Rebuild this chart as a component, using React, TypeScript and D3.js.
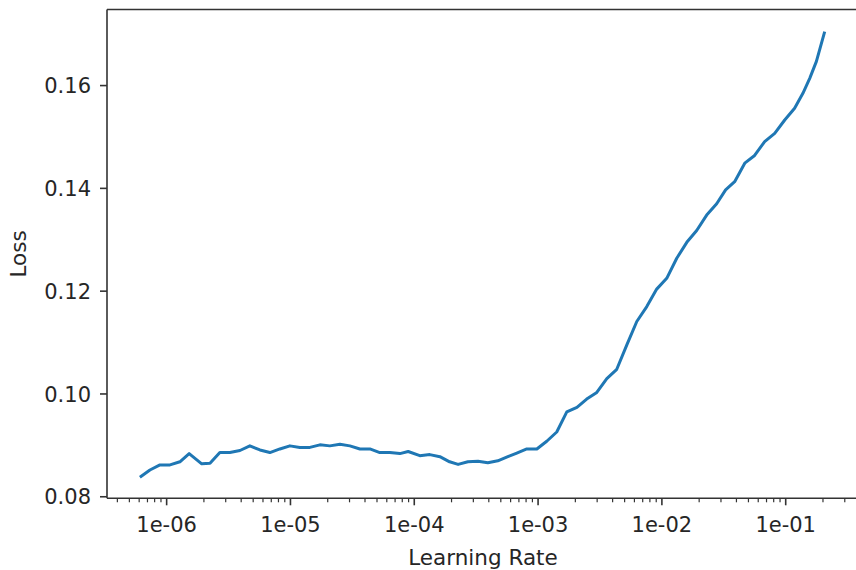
import React from "react";
import * as d3 from "d3";

const learningRates = [
  6.08e-7, 7.33e-7, 8.83e-7, 1.064e-6, 1.28e-6, 1.52e-6, 1.92e-6, 2.24e-6, 2.69e-6, 3.24e-6,
  3.91e-6, 4.7e-6, 5.67e-6, 6.82e-6, 8.22e-6, 9.9e-6, 1.19e-5, 1.435e-5, 1.73e-5, 2.08e-5,
  2.51e-5, 3.02e-5, 3.64e-5, 4.38e-5, 5.27e-5, 6.35e-5, 7.65e-5, 8.93e-5, 1.109e-4, 1.336e-4,
  1.61e-4, 1.93e-4, 2.26e-4, 2.71e-4, 3.27e-4, 3.93e-4, 4.73e-4, 5.7e-4, 6.73e-4, 8.11e-4,
  9.77e-4, 1.175e-3, 1.415e-3, 1.706e-3, 2.06e-3, 2.47e-3, 2.98e-3, 3.59e-3, 4.32e-3, 5.2e-3,
  6.27e-3, 7.55e-3, 9.08e-3, 1.094e-2, 1.318e-2, 1.589e-2, 1.91e-2, 2.3e-2, 2.77e-2, 3.27e-2,
  3.87e-2, 4.67e-2, 5.61e-2, 6.76e-2, 8.15e-2, 9.82e-2, 0.118, 0.1377, 0.1563, 0.177, 0.2065,
];

const losses = [
  0.0838, 0.0852, 0.0862, 0.0862, 0.0868, 0.0884, 0.0864, 0.0865, 0.0886, 0.0886,
  0.089, 0.0899, 0.0891, 0.0886, 0.0893, 0.0899, 0.0896, 0.0896, 0.0901, 0.0899,
  0.0902, 0.0899, 0.0893, 0.0893, 0.0886, 0.0886, 0.0884, 0.0888, 0.088, 0.0882,
  0.0878, 0.0868, 0.0863, 0.0868, 0.0869, 0.0866, 0.087, 0.0878, 0.0885, 0.0893,
  0.0893, 0.0908, 0.0926, 0.0965, 0.0974, 0.099, 0.1003, 0.103, 0.1048, 0.1095,
  0.1141, 0.117, 0.1204, 0.1225, 0.1264, 0.1295, 0.1318, 0.1348, 0.137, 0.1397,
  0.1413, 0.1449, 0.1464, 0.1491, 0.1507, 0.1533, 0.1556, 0.1585, 0.1614, 0.1647, 0.1705,
];

const xTickValues = [1e-6, 1e-5, 1e-4, 1e-3, 1e-2, 1e-1];
const xTickLabels = ["1e-06", "1e-05", "1e-04", "1e-03", "1e-02", "1e-01"];
const yTickValues = [0.08, 0.1, 0.12, 0.14, 0.16];
const yTickLabels = ["0.08", "0.10", "0.12", "0.14", "0.16"];
const xLabel = "Learning Rate";
const yLabel = "Loss";

const W = 856;
const H = 570;
const left = 107;
const right = 859;
const top = 9.5;
const bottom = 498.3;
const FONT = "DejaVu Sans, sans-serif";
const TEXT = "#262626";
const SPINE = "#333333";

export default function App() {
  const x = d3.scaleLog().domain([Math.pow(10, -6.4817), Math.pow(10, -0.408)]).range([left, right]);
  const y = d3.scaleLinear().domain([0.0797, 0.1748]).range([bottom, top]);

  const pts = learningRates.map((lr, i) => [lr, losses[i]] as [number, number]);
  const line = d3
    .line<[number, number]>()
    .x((d) => x(d[0]))
    .y((d) => y(d[1]));

  const [d0, d1] = x.domain();
  const minor: number[] = [];
  for (let e = -7; e <= 0; e++) {
    for (let m = 2; m <= 9; m++) {
      const v = m * Math.pow(10, e);
      if (v >= d0 && v <= d1 && x(v) <= W) minor.push(v);
    }
  }

  return (
    <svg
      width={W}
      height={H}
      style={{ position: "absolute", left: 0, top: 0, background: "#fff" }}
      fontFamily={FONT}
    >
      <rect x={0} y={0} width={W} height={H} fill="#fff" />
      <path d={line(pts) ?? ""} fill="none" stroke="#1f77b4" strokeWidth={3} strokeLinejoin="round" strokeLinecap="butt" />

      {/* spines */}
      <line x1={left} x2={left} y1={top} y2={bottom} stroke={SPINE} strokeWidth={1.6} />
      <line x1={left} x2={W} y1={bottom} y2={bottom} stroke={SPINE} strokeWidth={1.6} />
      <line x1={left} x2={W} y1={top} y2={top} stroke={SPINE} strokeWidth={1.6} />
      <line x1={right} x2={right} y1={top} y2={bottom} stroke={SPINE} strokeWidth={1.6} />

      {/* y ticks */}
      {yTickValues.map((v, i) => (
        <g key={"y" + i}>
          <line x1={left - 7} x2={left} y1={y(v)} y2={y(v)} stroke={SPINE} strokeWidth={1.6} />
          <text x={left - 16} y={y(v)} dy="0.36em" textAnchor="end" fontSize={21} fill={TEXT}>
            {yTickLabels[i]}
          </text>
        </g>
      ))}

      {/* x major ticks */}
      {xTickValues.map((v, i) => (
        <g key={"x" + i}>
          <line x1={x(v)} x2={x(v)} y1={bottom} y2={bottom + 7} stroke={SPINE} strokeWidth={1.6} />
          <text x={x(v)} y={bottom + 34} textAnchor="middle" fontSize={21} fill={TEXT}>
            {xTickLabels[i]}
          </text>
        </g>
      ))}

      {/* x minor ticks */}
      {minor.map((v, i) => (
        <line key={"m" + i} x1={x(v)} x2={x(v)} y1={bottom} y2={bottom + 4} stroke={SPINE} strokeWidth={1.2} />
      ))}

      <text x={(left + right) / 2} y={565} textAnchor="middle" fontSize={21.5} fill={TEXT}>
        {xLabel}
      </text>
      <text
        transform={`translate(${26},${(top + bottom) / 2}) rotate(-90)`}
        textAnchor="middle"
        fontSize={21.5}
        fill={TEXT}
      >
        {yLabel}
      </text>
    </svg>
  );
}
